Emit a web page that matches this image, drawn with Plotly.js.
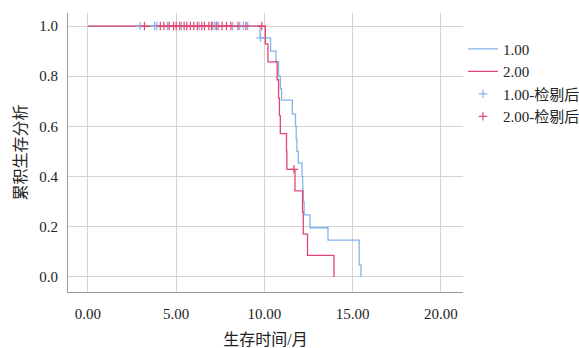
<!DOCTYPE html>
<html>
<head>
<meta charset="utf-8">
<script src="https://cdn.plot.ly/plotly-3.0.1.min.js"></script>
<style>html,body{margin:0;padding:0;background:#fff;}#chart{width:579px;height:348px;}</style>
</head>
<body>
<div id="chart"></div>
<script>
// Group 1.00 (blue) step curve
var blueTimes = [0, 9.75, 10.35, 10.65, 10.8, 10.9, 10.97, 11.58, 11.76, 11.8, 11.84, 11.92, 12.13, 12.17, 12.2, 12.25, 12.58, 13.6, 15.37, 15.47];
var blueSurv  = [1.0, 0.953, 0.90, 0.857, 0.80, 0.75, 0.705, 0.649, 0.60, 0.55, 0.50, 0.454, 0.40, 0.35, 0.30, 0.247, 0.196, 0.147, 0.048, 0.0];
// Group 2.00 (red) step curve
var redTimes = [0, 10.05, 10.2, 10.72, 10.8, 10.85, 10.9, 11.25, 11.27, 11.73, 12.16, 12.2, 12.44, 13.94];
var redSurv  = [1.0, 0.929, 0.857, 0.786, 0.714, 0.643, 0.571, 0.50, 0.429, 0.343, 0.257, 0.171, 0.086, 0.0];
// Censored observations
var blueCensorT = [2.95, 3.78, 3.9, 4.5, 5.3, 6.3, 7.05, 7.15, 7.25, 7.4, 8.2, 8.6, 8.8, 9.05, 9.78];
var blueCensorS = [1, 1, 1, 1, 1, 1, 1, 1, 1, 1, 1, 1, 1, 1, 0.953];
var redCensorT = [3.2, 4.1, 4.3, 4.6, 4.85, 5.0, 5.2, 5.45, 5.6, 5.8, 6.0, 6.2, 6.45, 6.6, 6.85, 7.0, 7.3, 7.6, 7.85, 8.1, 8.5, 8.95, 9.85, 11.67];
var redCensorS = [1, 1, 1, 1, 1, 1, 1, 1, 1, 1, 1, 1, 1, 1, 1, 1, 1, 1, 1, 1, 1, 1, 1, 0.429];

var xTicks = [0, 5, 10, 15, 20];
var xTickText = ['0.00', '5.00', '10.00', '15.00', '20.00'];
var yTicks = [0, 0.2, 0.4, 0.6, 0.8, 1.0];
var yTickText = ['0.0', '0.2', '0.4', '0.6', '0.8', '1.0'];

var BLUE = '#84b4ee';
var RED = '#e5466f';
var SERIF = 'Liberation Serif';
var MIXED = 'Liberation Serif, Noto Sans CJK SC';

var traces = [
  {x: blueTimes, y: blueSurv, name: '1.00', mode: 'lines', line: {shape: 'hv', color: BLUE, width: 1.3}},
  {x: redTimes, y: redSurv, name: '2.00', mode: 'lines', line: {shape: 'hv', color: RED, width: 1.3}},
  {x: blueCensorT, y: blueCensorS, name: '1.00-检剔后', mode: 'markers',
   marker: {symbol: 'cross-thin', size: 6, color: BLUE, line: {color: BLUE, width: 1.2}}},
  {x: redCensorT, y: redCensorS, name: '2.00-检剔后', mode: 'markers',
   marker: {symbol: 'cross-thin', size: 6, color: RED, line: {color: RED, width: 1.2}}}
];

var layout = {
  width: 579, height: 348,
  margin: {l: 68, r: 116, t: 13, b: 56, autoexpand: false},
  paper_bgcolor: '#fff', plot_bgcolor: '#fff',
  font: {family: MIXED, size: 14, color: '#222'},
  showlegend: true,
  hovermode: false,
  legend: {x: 1.0, xanchor: 'left', y: 0.93, yanchor: 'top', font: {family: MIXED, size: 15, color: '#222'}, bgcolor: 'rgba(0,0,0,0)'},
  xaxis: {
    range: [-1.13, 21.25], tickvals: xTicks, ticktext: xTickText,
    showgrid: true, gridcolor: '#d4d4d4', gridwidth: 1,
    zeroline: false, showline: true, linecolor: '#9a9a9a', linewidth: 1,
    ticks: '', ticklabelstandoff: 8, tickfont: {family: SERIF, size: 15, color: '#222'},
    title: {text: '生存时间/月', font: {family: MIXED, size: 16, color: '#222'}, standoff: 12}
  },
  yaxis: {
    range: [-0.06, 1.052], tickvals: yTicks, ticktext: yTickText,
    showgrid: true, gridcolor: '#d4d4d4', gridwidth: 1,
    zeroline: false, showline: true, linecolor: '#9a9a9a', linewidth: 1,
    ticks: '', ticklabelstandoff: 6, tickfont: {family: SERIF, size: 15, color: '#222'},
    title: {text: '累积生存分析', font: {family: MIXED, size: 16, color: '#222'}, standoff: 8}
  }
};

Plotly.newPlot('chart', traces, layout, {displayModeBar: false, staticPlot: true});
</script>
</body>
</html>
